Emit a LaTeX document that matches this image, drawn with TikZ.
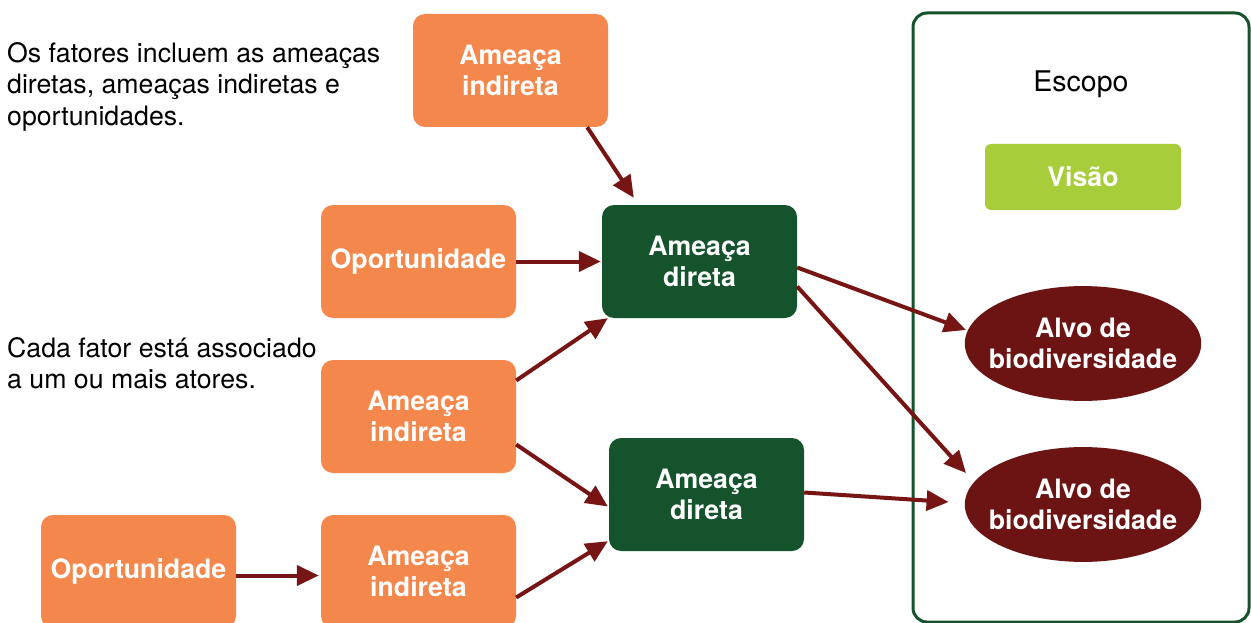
\documentclass[tikz,border=0pt]{standalone}
\usepackage{fontspec}
\setmainfont{TeX Gyre Heros}
\usetikzlibrary{arrows.meta,shapes.geometric,calc}

\definecolor{orangebox}{HTML}{F4874B}
\definecolor{darkgreen}{HTML}{14532B}
\definecolor{limegreen}{HTML}{A7CE3A}
\definecolor{targetred}{HTML}{6C1414}
\definecolor{arrowred}{HTML}{771414}

\tikzset{
  factor/.style={rounded corners=12pt, minimum width=195pt, minimum height=113pt,
    inner sep=0pt, align=center, text=white,
    font=\fontsize{26.7}{31.5}\selectfont\bfseries},
  indirect/.style={factor, fill=orangebox},
  direct/.style={factor, fill=darkgreen},
  target/.style={ellipse, fill=targetred, minimum width=234pt, minimum height=114pt,
    inner xsep=-10.5pt, inner ysep=15pt, align=center, text=white,
    font=\fontsize{26.7}{31.5}\selectfont\bfseries},
  note/.style={anchor=north west, inner sep=0pt, align=left,
    font=\fontsize{26.7}{31.5}\selectfont},
  link/.style={draw=arrowred, line width=4pt,
    -{Triangle[length=22pt,width=20pt]}},
}

\begin{document}
\begin{tikzpicture}[x=1pt, y=-1pt]
  \useasboundingbox (0,0) rectangle (1251,623);
  \clip (0,0) rectangle (1251,623);
  \fill[white] (0,0) rectangle (1251,623);

  % scope frame
  \draw[darkgreen, line width=3pt, rounded corners=14pt] (913,13) rectangle (1249,622);
  \node[font=\fontsize{28.5}{33}\selectfont] (escopo) at (1081,84) {Escopo};
  \node[fill=limegreen, rounded corners=6pt, minimum width=196pt, minimum height=66pt,
        inner sep=0pt, text=white, font=\fontsize{26.7}{31.5}\selectfont\bfseries]
        (visao) at (1083,177) {Visão};
  \node[target] (t1) at (1083,343.5) {Alvo de\\biodiversidade};
  \node[target] (t2) at (1083,504.5) {Alvo de\\biodiversidade};

  % explanatory notes
  \node[note] (n1) at (7,42) {Os fatores incluem as ameaças\\diretas, ameaças indiretas e\\oportunidades.};
  \node[note] (n2) at (7,337) {Cada fator está associado\\a um ou mais atores.};

  % factors
  \node[indirect] (ai1) at (510.5,70.5) {Ameaça\\indireta};
  \node[indirect] (op1) at (418.5,261.5) {Oportunidade};
  \node[direct]   (ad1) at (699.5,261.5) {Ameaça\\direta};
  \node[indirect] (ai2) at (418.5,416.5) {Ameaça\\indireta};
  \node[direct]   (ad2) at (706.5,494.5) {Ameaça\\direta};
  \node[indirect] (op2) at (138.5,571.5) {Oportunidade};
  \node[indirect] (ai3) at (418.5,571.5) {Ameaça\\indireta};

  % links
  \draw[link] ($(ai1.south east)+(-21,0)$) -- ($(ad1.north west)+(32,-7)$);
  \draw[link] (op1.east) -- ($(ad1.west)+(-1,0)$);
  \draw[link] ($(ai2.east)+(0,-36)$) -- ($(ad1.south west)+(6,0)$);
  \draw[link] ($(ai2.east)+(0,28)$) -- ($(ad2.west)+(-1,12)$);
  \draw[link] ($(ai3.east)+(0,26)$) -- ($(ad2.south west)+(-1,-10)$);
  \draw[link] ($(op2.east)+(0,4)$) -- ($(ai3.west)+(-2,4)$);
  \draw[link] ($(ad1.east)+(0,6)$) -- ($(t1.center)+(-117,-13.5)$);
  \draw[link] ($(ad1.east)+(0,25)$) -- ($(t2.center)+(-117,-31.5)$);
  \draw[link] ($(ad2.east)+(0,-2)$) -- ($(t2.west)+(-16,-2.5)$);
\end{tikzpicture}
\end{document}
